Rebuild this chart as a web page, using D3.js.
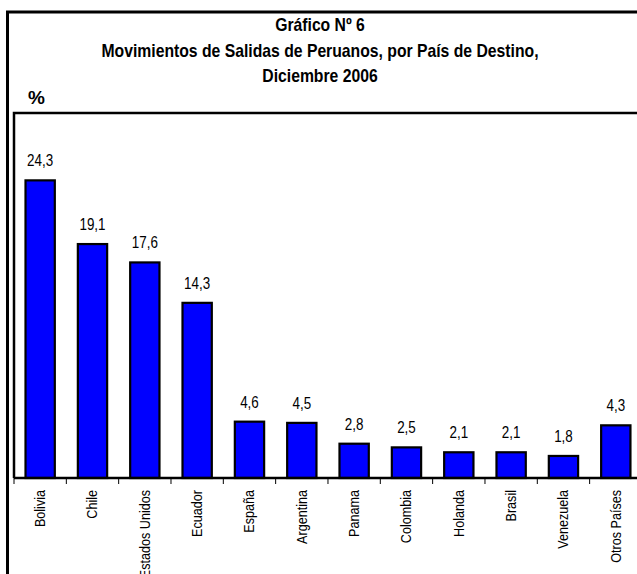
<!DOCTYPE html>
<html>
<head>
<meta charset="utf-8">
<script src="https://cdn.jsdelivr.net/npm/d3@7"></script>
<style>
  body { margin: 0; background: #fff; }
  text { font-family: "Liberation Sans Narrow", "Arial Narrow", "Liberation Sans", sans-serif; }
</style>
</head>
<body>
<div class="chart"></div>
<script>
// data
var paises = ["Bolivia", "Chile", "Estados Unidos", "Ecuador", "España", "Argentina",
              "Panama", "Colombia", "Holanda", "Brasil", "Venezuela", "Otros Países"];
var porcentajes = [24.3, 19.1, 17.6, 14.3, 4.6, 4.5, 2.8, 2.5, 2.1, 2.1, 1.8, 4.3];
var titulo = ["Gráfico Nº 6",
              "Movimientos de Salidas de Peruanos, por País de Destino,",
              "Diciembre 2006"];

function drawChart() {
    var w = 637;
    var h = 574;
    var left = 14, top = 113, bottom = 478;
    var bandW = 52.33;
    var narrow = 0.84; // squeeze text, no narrow font installed

    var svg = d3.select(".chart")
                .append("svg")
                .attr("width", w)
                .attr("height", h);

    // outer frame (runs off the right and bottom edges)
    svg.append("path")
        .attr("d", "M7.5," + (h + 5) + " V12 H" + (w + 10))
        .attr("fill", "none")
        .attr("stroke", "black")
        .attr("stroke-width", 3);

    // titles
    svg.selectAll(".titulo")
        .data(titulo)
        .enter()
        .append("text")
        .attr("class", "titulo")
        .attr("transform", function(d, i){
            return "translate(320," + (31 + i * 25.5) + ") scale(0.9,1)";
        })
        .attr("text-anchor", "middle")
        .style("font-size", "17.5px")
        .style("font-weight", "bold")
        .text(function(d){ return d; });

    svg.append("text")
        .attr("x", 28)
        .attr("y", 104)
        .style("font-size", "19px")
        .style("font-weight", "bold")
        .text("%");

    var x = d3.scaleBand()
            .domain(paises)
            .range([left, left + bandW * paises.length])
            .paddingInner(0.44)
            .paddingOuter(0.22);

    var y = d3.scaleLinear()
            .domain([0, 29.8])
            .range([bottom, top]);

    // plot area frame
    svg.append("path")
        .attr("d", "M" + left + "," + bottom + " V" + top + " H" + (w + 10))
        .attr("fill", "none")
        .attr("stroke", "black")
        .attr("stroke-width", 2.5);

    svg.selectAll(".bar")
        .data(paises)
        .enter()
        .append("rect")
        .attr("class", "bar")
        .attr("x", function(d){ return x(d); })
        .attr("width", x.bandwidth())
        .attr("y", function(d, i){ return y(porcentajes[i]); })
        .attr("height", function(d, i){ return y(0) - y(porcentajes[i]); })
        .attr("fill", "#0000ff")
        .attr("stroke", "black")
        .attr("stroke-width", 2.2);

    svg.selectAll(".valor")
        .data(paises)
        .enter()
        .append("text")
        .attr("class", "valor")
        .attr("transform", function(d, i){
            return "translate(" + (x(d) + x.bandwidth() / 2) + "," + (y(porcentajes[i]) - 14) + ") scale(" + narrow + ",1)";
        })
        .attr("text-anchor", "middle")
        .style("font-size", "16px")
        .text(function(d, i){ return porcentajes[i].toFixed(1).replace(".", ","); });

    // category axis with ticks between bands
    svg.append("line")
        .attr("x1", left).attr("x2", w + 10)
        .attr("y1", bottom).attr("y2", bottom)
        .attr("stroke", "black")
        .attr("stroke-width", 2.5);

    svg.selectAll(".tick")
        .data(d3.range(paises.length + 1))
        .enter()
        .append("line")
        .attr("class", "tick")
        .attr("x1", function(i){ return left + i * bandW; })
        .attr("x2", function(i){ return left + i * bandW; })
        .attr("y1", bottom)
        .attr("y2", bottom + 6)
        .attr("stroke", "black")
        .attr("stroke-width", 1);

    svg.selectAll(".cat")
        .data(paises)
        .enter()
        .append("text")
        .attr("class", "cat")
        .attr("transform", function(d){
            return "translate(" + (x(d) + x.bandwidth() / 2 + 5) + "," + 490 + ") rotate(-90) scale(" + narrow + ",1)";
        })
        .attr("text-anchor", "end")
        .style("font-size", "15px")
        .text(function(d){ return d; });
}
drawChart();
</script>
</body>
</html>
